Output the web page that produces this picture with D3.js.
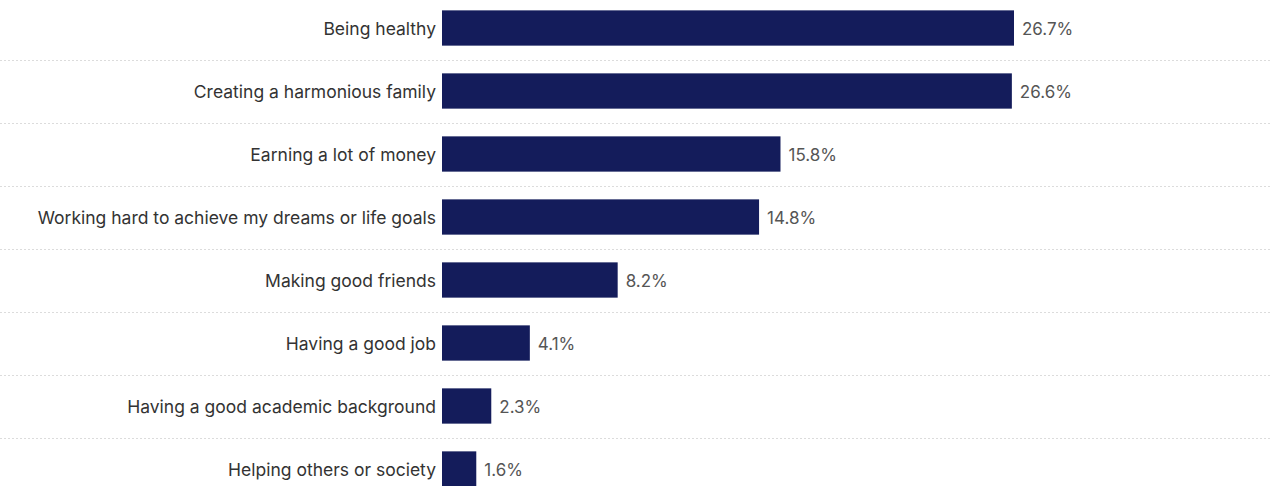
<!DOCTYPE html>
<html>
<head>
<meta charset="utf-8">
<script src="https://cdn.jsdelivr.net/npm/d3@7"></script>
<style>
  body { margin: 0; background: #fff; }
  svg { display: block; font-family: Inter, Roboto, "Noto Sans", sans-serif; }
</style>
</head>
<body>
<svg id="chart"></svg>
<script>
// Categories and values (percent)
const categories = [
  'Being healthy',
  'Creating a harmonious family',
  'Earning a lot of money',
  'Working hard to achieve my dreams or life goals',
  'Making good friends',
  'Having a good job',
  'Having a good academic background',
  'Helping others or society'
];
const values = [26.7, 26.6, 15.8, 14.8, 8.2, 4.1, 2.3, 1.6];

const width = 1270;
const height = 486;
const margin = { top: -3.5, right: 0, bottom: 0, left: 442 };
const rowH = 63;

const svg = d3.select('#chart')
  .attr('width', width)
  .attr('height', height);

// Scales
const x = d3.scaleLinear()
  .domain([0, 26.7])
  .range([margin.left, 1014]);

const y = d3.scaleBand()
  .domain(categories)
  .range([margin.top, margin.top + rowH * categories.length])
  .paddingInner(0.44)
  .paddingOuter(0.22);

// Dotted separators between rows
svg.append('g')
  .selectAll('line')
  .data(categories.slice(1))
  .join('line')
  .attr('x1', 0)
  .attr('x2', width)
  .attr('y1', d => Math.round(y(d) - y.step() * y.paddingInner() / 2) + 0.5)
  .attr('y2', d => Math.round(y(d) - y.step() * y.paddingInner() / 2) + 0.5)
  .attr('stroke', '#dcdcdc')
  .attr('stroke-width', 1)
  .attr('stroke-dasharray', '2,2');

// Bars
svg.append('g')
  .selectAll('rect')
  .data(values)
  .join('rect')
  .attr('x', x(0))
  .attr('y', (d, i) => y(categories[i]))
  .attr('width', d => x(d) - x(0))
  .attr('height', y.bandwidth())
  .attr('fill', '#141c5b');

// Category labels
svg.append('g')
  .selectAll('text')
  .data(categories)
  .join('text')
  .attr('x', x(0) - 6)
  .attr('y', d => y(d) + y.bandwidth() / 2)
  .attr('dy', '0.42em')
  .attr('text-anchor', 'end')
  .attr('fill', '#333')
  .style('font-size', '17.5px')
  .text(d => d);

// Value labels
svg.append('g')
  .selectAll('text')
  .data(values)
  .join('text')
  .attr('x', d => x(d) + 8)
  .attr('y', (d, i) => y(categories[i]) + y.bandwidth() / 2)
  .attr('dy', '0.42em')
  .attr('fill', '#555')
  .style('font-size', '17px')
  .text(d => d.toFixed(1) + '%');
</script>
</body>
</html>
